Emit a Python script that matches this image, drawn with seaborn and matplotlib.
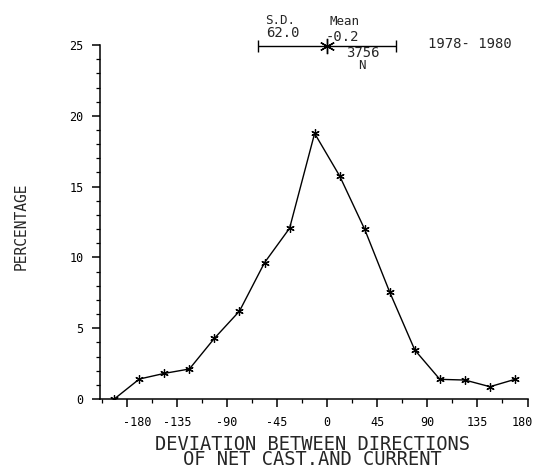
import matplotlib
matplotlib.use("Agg")
import matplotlib.pyplot as plt
import matplotlib.transforms as mtransforms
import seaborn as sns
import pandas as pd
from matplotlib.ticker import MultipleLocator

# data (bin centres, 22.5 deg bins)
deviation = [-191.25, -168.75, -146.25, -123.75, -101.25, -78.75, -56.25, -33.75,
             -11.25, 11.25, 33.75, 56.25, 78.75, 101.25, 123.75, 146.25, 168.75]
percentage = [0.0, 1.41, 1.81, 2.12, 4.29, 6.21, 9.63, 12.06,
              18.76, 15.75, 11.98, 7.54, 3.46, 1.39, 1.34, 0.87, 1.39]

mean_dev = -0.2
sd_dev = 62.0
n_obs = 3756
period = "1978- 1980"

xticks = [-180, -135, -90, -45, 0, 45, 90, 135, 180]
yticks = [0, 5, 10, 15, 20, 25]

df = pd.DataFrame({"deviation": deviation, "percentage": percentage})

sns.set_style("ticks")
plt.rcParams["font.family"] = ["DejaVu Sans Mono", "DejaVu Sans"]

fig = plt.figure(figsize=(5.38, 4.68), dpi=100)
ax = fig.add_axes([0.186, 0.1474, 0.7945, 0.7564])

asterisk = (6, 2, 0)
sns.lineplot(data=df, x="deviation", y="percentage", color="black", linewidth=1.0,
             marker=asterisk, markersize=6, markeredgewidth=0.9,
             markeredgecolor="black", ax=ax)

ax.set_xlim(-204, 180)
ax.set_ylim(0, 25)
ax.set_xticks(xticks)
ax.set_xticklabels([str(t) for t in xticks])
ax.set_yticks(yticks)
ax.xaxis.set_minor_locator(MultipleLocator(22.5))
ax.yaxis.set_minor_locator(MultipleLocator(1))
ax.tick_params(axis="both", which="major", direction="out", length=6, width=1.1,
               colors="black", labelsize=8.5, pad=6)
ax.tick_params(axis="both", which="minor", direction="out", length=3, width=0.9,
               colors="black")
ax.set_xlabel("")
ax.set_ylabel("")
sns.despine(ax=ax)
for side in ["left", "bottom"]:
    ax.spines[side].set_linewidth(1.1)
    ax.spines[side].set_color("black")

# end labels sit a little inside their ticks on the original
labels = ax.get_xticklabels()
labels[0].set_transform(labels[0].get_transform() +
                        mtransforms.ScaledTranslation(0.10, 0, fig.dpi_scale_trans))
labels[-1].set_transform(labels[-1].get_transform() +
                         mtransforms.ScaledTranslation(-0.05, 0, fig.dpi_scale_trans))

# mean +/- S.D. bar above the plot
bar_y = 24.95
ax.errorbar([mean_dev], [bar_y], xerr=[sd_dev], fmt="none", ecolor="black",
            elinewidth=1.0, capsize=4.5, capthick=1.0, clip_on=False)
ax.plot([mean_dev], [bar_y], marker=asterisk, markersize=11, markeredgewidth=1.0,
        color="black", clip_on=False)

fs = 10
fig.text(0.520, 0.957, "S.D.", ha="center", va="center", fontsize=fs - 1)
fig.text(0.526, 0.930, f"{sd_dev:.1f}", ha="center", va="center", fontsize=fs)
fig.text(0.640, 0.954, "Mean", ha="center", va="center", fontsize=fs - 1)
fig.text(0.636, 0.922, f"{mean_dev:.1f}", ha="center", va="center", fontsize=fs)
fig.text(0.674, 0.886, str(n_obs), ha="center", va="center", fontsize=fs)
fig.text(0.673, 0.860, "N", ha="center", va="center", fontsize=fs - 1)
fig.text(0.874, 0.906, period, ha="center", va="center", fontsize=fs)

fig.text(0.040, 0.517, "PERCENTAGE", rotation=90, ha="center", va="center",
         fontsize=10.5)
fig.text(0.58, 0.034, "DEVIATION BETWEEN DIRECTIONS\nOF NET CAST.AND CURRENT",
         ha="center", va="center", multialignment="center", fontsize=13.5,
         linespacing=0.72)

fig.savefig("out.png", dpi=100)
